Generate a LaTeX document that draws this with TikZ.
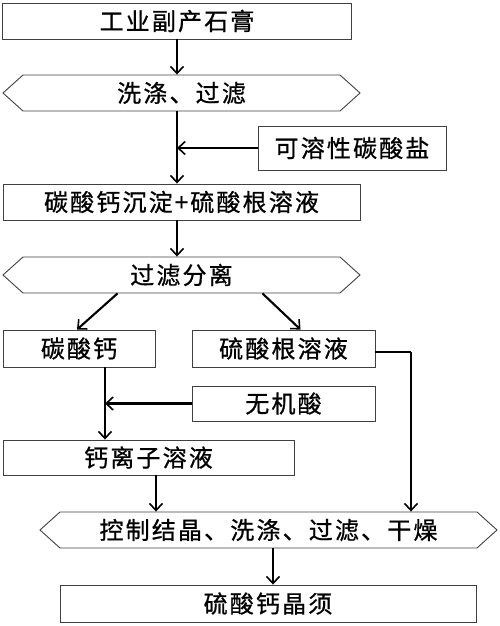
\documentclass[tikz,border=0pt]{standalone}
\usepackage{fontspec}
\newfontfamily\cjk[LetterSpace=9,FakeBold=0.8]{Noto Sans CJK SC}
\usetikzlibrary{shapes.symbols, arrows.meta}

\begin{document}
\begin{tikzpicture}[x=1pt,y=-1pt,>={Straight Barb[length=7pt,width=13pt,line width=1.6pt]}]
\tikzstyle{box} = [rectangle, draw=black!75, line width=0.9pt, minimum height=36pt, inner sep=0pt, font=\cjk\fontsize{24}{26}\selectfont]
\tikzstyle{proc} = [signal, signal to=west and east, signal pointer angle=84, draw=black!75, line width=0.9pt, minimum height=36pt, inner sep=0pt, font=\cjk\fontsize{24}{26}\selectfont]
\tikzstyle{arrow} = [line width=2.1pt,->]
\tikzstyle{line} = [line width=2.1pt]

\useasboundingbox (0,0) rectangle (500,626);

\node (gyp) at (177,21) [box, minimum width=349pt] {工业副产石膏};
\node (wash) at (181.5,93) [proc, minimum width=357pt] {洗涤、过滤};
\node (salt) at (352,148) [box, minimum width=188pt, minimum height=44pt] {可溶性碳酸盐};
\node (mix) at (181.5,202) [box, minimum width=357pt] {碳酸钙沉淀+硫酸根溶液};
\node (sep) at (181.5,275) [proc, minimum width=357pt] {过滤分离};
\node (caco) at (79,348.5) [box, minimum width=152pt, minimum height=37pt] {碳酸钙};
\node (sulf) at (283.5,348.5) [box, minimum width=183pt, minimum height=37pt] {硫酸根溶液};
\node (acid) at (283.5,403.5) [box, minimum width=183pt, minimum height=35pt] {无机酸};
\node (ion) at (148.5,457.5) [box, minimum width=291pt, minimum height=35pt] {钙离子溶液};
\node (cryst) at (268.5,530) [proc, minimum width=457pt] {控制结晶、洗涤、过滤、干燥};
\node (whisk) at (268,603.5) [box, minimum width=416pt, minimum height=37pt] {硫酸钙晶须};

\coordinate (j1) at (177,148);
\coordinate (j2) at (105,403.5);
\coordinate (t1) at (411,352);

\draw[arrow] (gyp.south) -- (gyp.south |- wash.north);
\draw[arrow] (j1 |- wash.south) -- (j1 |- mix.north);
\draw[arrow] (salt.west) -- (j1);
\draw[arrow] (j1 |- mix.south) -- (j1 |- sep.north);
\draw[arrow] ([xshift=-64pt]sep.south) -- ([xshift=-2pt]caco.north);
\draw[arrow] ([xshift=81pt]sep.south) -- ([xshift=17pt]sulf.north);
\draw[arrow] (j2 |- caco.south) -- (j2 |- ion.north);
\draw[arrow] (acid.west) -- (j2);
\draw[arrow] ([xshift=7.5pt]ion.south) -- ([xshift=7.5pt]ion.south |- cryst.north);
\draw[line] (sulf.east |- t1) -- (t1);
\draw[arrow] (t1) -- (t1 |- cryst.north);
\draw[arrow] ([xshift=4.5pt]cryst.south) -- ([xshift=4.5pt]cryst.south |- whisk.north);

\end{tikzpicture}
\end{document}
